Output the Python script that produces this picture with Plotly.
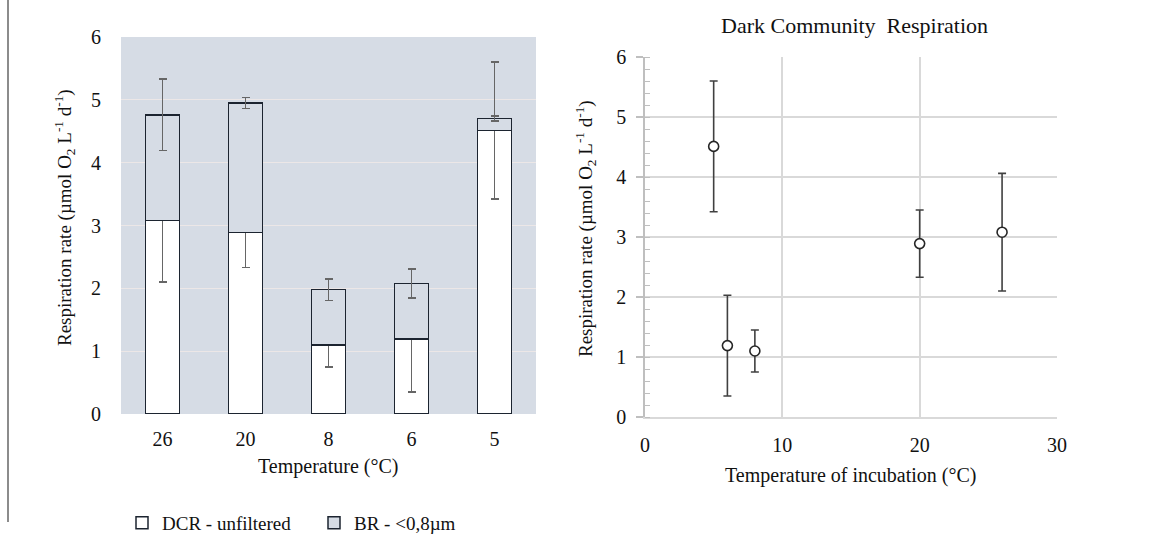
import plotly.graph_objects as go

# Left panel: respiration by temperature (stacked bars)
temps_cat = ["26", "20", "8", "6", "5"]
dcr_mean = [3.08, 2.89, 1.10, 1.19, 4.51]
dcr_err = [0.98, 0.56, 0.35, 0.84, 1.09]
br_part = [1.68, 2.06, 0.88, 0.89, 0.19]      # stacked on top of DCR
br_err = [0.57, 0.09, 0.17, 0.23, 0.04]

# Right panel: dark community respiration vs incubation temperature
inc_temp = [5, 6, 8, 20, 26]
dcr_resp = [4.51, 1.19, 1.10, 2.89, 3.08]
dcr_resp_err = [1.09, 0.84, 0.35, 0.56, 0.98]

W, H = 1157, 535
FONT = "Liberation Serif, Times New Roman, serif"
BG = "#D6DCE5"
EDGE = "#1C2430"
INK = "#111111"


def px(x):
    return x / W


def py(y):
    return 1 - y / H


fig = go.Figure()

fig.add_trace(go.Bar(
    x=temps_cat, y=dcr_mean, name="DCR - unfiltered",
    marker=dict(color="white", line=dict(color=EDGE, width=1.5)),
    width=0.41,
    error_y=dict(type="data", array=dcr_err, color="#666666", thickness=1.5, width=4),
    xaxis="x", yaxis="y",
))
fig.add_trace(go.Bar(
    x=temps_cat, y=br_part, name="BR - <0,8µm",
    marker=dict(color=BG, line=dict(color=EDGE, width=1.5)),
    width=0.41,
    error_y=dict(type="data", array=br_err, color="#666666", thickness=1.5, width=4),
    xaxis="x", yaxis="y",
))

fig.add_trace(go.Scatter(
    x=inc_temp, y=dcr_resp, mode="markers", showlegend=False,
    marker=dict(symbol="circle", size=10, color="white", line=dict(color="#262626", width=1.6)),
    error_y=dict(type="data", array=dcr_resp_err, color="#404040", thickness=1.6, width=4),
    xaxis="x2", yaxis="y2",
))

tickfont = dict(family=FONT, size=20, color=INK)
ytitle = "Respiration rate (µmol O<sub>2</sub> L<sup>-1</sup> d<sup>-1</sup>)"


def label(text, x, y, size=20, angle=0):
    return dict(text=text, x=px(x), y=py(y), xref="paper", yref="paper",
                xanchor="center", yanchor="middle", textangle=angle,
                showarrow=False, font=dict(family=FONT, size=size, color=INK))


fig.update_layout(
    width=W, height=H,
    margin=dict(l=0, r=0, t=0, b=0, autoexpand=False),
    paper_bgcolor="white",
    plot_bgcolor="white",
    barmode="stack",
    font=dict(family=FONT, size=20, color=INK),
    xaxis=dict(
        domain=[px(121), px(536)], anchor="y", type="category", automargin=False,
        showgrid=False, showline=False, ticks="", tickfont=tickfont,
        ticklabelstandoff=11,
    ),
    yaxis=dict(
        domain=[py(414), py(37)], anchor="x", range=[0, 6], dtick=1, automargin=False,
        showgrid=True, gridcolor="#ECE7E7", gridwidth=1, zeroline=False,
        showline=False, ticks="", tickfont=tickfont, ticklabelstandoff=19,
    ),
    xaxis2=dict(
        domain=[px(645), px(1057)], anchor="y2", range=[0, 30], dtick=10, automargin=False,
        showgrid=True, gridcolor="#D9D9D9", gridwidth=1.5, zeroline=False,
        showline=True, linecolor="#D9D9D9", linewidth=1.5, ticks="",
        tickfont=tickfont, ticklabelstandoff=9,
    ),
    yaxis2=dict(
        domain=[py(417), py(57)], anchor="x2", range=[0, 6], dtick=1, automargin=False,
        showgrid=True, gridcolor="#D9D9D9", gridwidth=1.5, zeroline=False,
        showline=True, linecolor="#BFBFBF", linewidth=1.5,
        ticks="outside", ticklen=7, tickcolor="#BFBFBF", tickwidth=1.5,
        minor=dict(ticks="inside", dtick=0.2, ticklen=5, tickcolor="#BFBFBF", tickwidth=1.2, showgrid=False),
        tickfont=tickfont, ticklabelstandoff=6,
    ),
    legend=dict(
        orientation="h", x=px(122), y=py(523), xanchor="left", yanchor="middle",
        font=dict(family=FONT, size=19, color=INK), itemwidth=30,
        entrywidth=147, entrywidthmode="pixels",
        bgcolor="rgba(0,0,0,0)", traceorder="normal",
    ),
    annotations=[
        label("Dark Community  Respiration", 854, 25, size=22),
        label("Temperature (°C)", 328, 466),
        label("Temperature of incubation (°C)", 851, 475),
        label(ytitle, 64, 218, size=19, angle=-90),
        label(ytitle, 585, 229, size=19, angle=-90),
    ],
    shapes=[
        # shaded plotting area of the bar panel
        dict(type="rect", xref="x domain", yref="y domain", x0=0, x1=1, y0=0, y1=1,
             fillcolor=BG, line=dict(width=0), layer="below"),
        # divider at the left edge
        dict(type="line", xref="paper", yref="paper", x0=px(8), x1=px(8), y0=py(0), y1=py(522),
             line=dict(color="#8C8C8C", width=2)),
    ],
)

fig.write_html("out.html")
